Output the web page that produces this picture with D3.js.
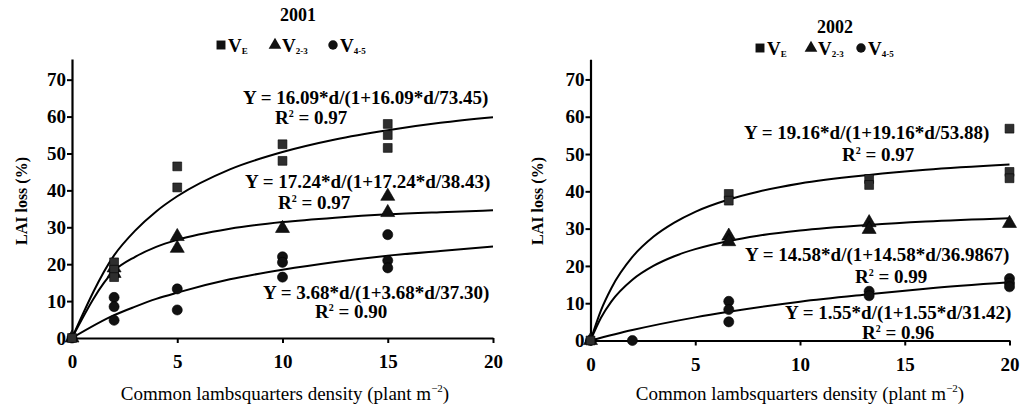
<!DOCTYPE html>
<html>
<head>
<meta charset="utf-8">
<script src="https://cdn.jsdelivr.net/npm/d3@7/dist/d3.min.js"></script>
<style>
  body { margin: 0; background: #fff; }
  svg { display: block; }
  text { font-family: "Liberation Serif", "Times New Roman", serif; fill: #000; }
</style>
</head>
<body>
<div id="chart"></div>
<script>
// tick labels
var xTicks = [0, 5, 10, 15, 20];
var yTicks = [0, 10, 20, 30, 40, 50, 60, 70];
var seriesNames = ['E', '2-3', '4-5'];

// 2001 observations [density, LAI loss %]
var ve2001 = [[0, 0], [2, 20.5], [2, 18.5], [2, 16.5], [5, 46.5], [5, 40.8], [10, 52.5], [10, 48], [15, 58], [15, 55], [15, 51.5]];
var v23_2001 = [[0, 0], [2, 19], [2, 17.5], [5, 27.5], [5, 24.3], [10, 29.7], [15, 38.4], [15, 34]];
var v45_2001 = [[0, 0], [2, 11], [2, 8.5], [2, 4.8], [5, 13.3], [5, 7.6], [10, 22], [10, 20.5], [10, 16.5], [15, 28], [15, 21], [15, 19]];

// 2001 fitted curves
var fitVe2001 = [[0, 0], [2, 22.4], [3, 29.1], [4, 34.3], [5, 38.4], [7.5, 45.7], [10, 50.4], [12.5, 53.8], [15, 56.3], [17.5, 58.3], [20, 59.8]];
var fitV23_2001 = [[0, 0], [2, 18.2], [3, 22.0], [4, 24.7], [5, 26.6], [7.5, 29.6], [10, 31.4], [12.5, 32.6], [15, 33.5], [17.5, 34.1], [20, 34.6]];
var fitV45_2001 = [[0, 0], [2, 6.2], [3, 8.5], [4, 10.6], [5, 12.3], [7.5, 15.9], [10, 18.5], [12.5, 20.6], [15, 22.3], [17.5, 23.6], [20, 24.8]];

// 2002 observations
var ve2002 = [[0, 0], [6.6, 39.3], [6.6, 37.5], [13.3, 43.3], [13.3, 41.7], [20, 56.8], [20, 45.2], [20, 43.5]];
var v23_2002 = [[0, 0], [6.6, 28], [6.6, 26.5], [13.3, 31.6], [13.3, 29.8], [20, 31.4]];
var v45_2002 = [[0, 0], [2, 0], [6.6, 10.5], [6.6, 8.3], [6.6, 5], [13.3, 13.2], [13.3, 12], [20, 16.6], [20, 15.4], [20, 14.4]];

// 2002 fitted curves
var fitVe2002 = [[0, 0], [0.5, 8.1], [1, 14.1], [2, 22.4], [3, 27.8], [4, 31.6], [5, 34.5], [6.6, 37.8], [8, 39.9], [10, 42.1], [13.3, 44.4], [16, 45.8], [20, 47.2]];
var fitV23_2002 = [[0, 0], [0.5, 6.1], [1, 10.5], [2, 16.3], [3, 20.0], [4, 22.6], [5, 24.5], [6.6, 26.7], [8, 28.1], [10, 29.5], [13.3, 31.0], [16, 31.9], [20, 32.8]];
var fitV45_2002 = [[0, 0], [2, 2.8], [5, 6.2], [6.6, 7.7], [10, 10.4], [13.3, 12.4], [16, 13.9], [20, 15.6]];

// equation labels
var eq2001 = ['Y = 16.09*d/(1+16.09*d/73.45)', 'Y = 17.24*d/(1+17.24*d/38.43)', 'Y = 3.68*d/(1+3.68*d/37.30)'];
var r2001 = ['0.97', '0.97', '0.90'];
var eq2002 = ['Y = 19.16*d/(1+19.16*d/53.88)', 'Y = 14.58*d/(1+14.58*d/36.9867)', 'Y = 1.55*d/(1+1.55*d/31.42)'];
var r2002 = ['0.97', '0.99', '0.96'];

var width = 1024, height = 406;
var font = 'Liberation Serif, Times New Roman, serif';

var panels = [
    {
        title: '2001', titleX: 298, titleY: 21,
        x0: 72, x1: 493, y0: 338, y1: 59, yMax: 75.6,
        points: [ve2001, v23_2001, v45_2001],
        fits: [fitVe2001, fitV23_2001, fitV45_2001],
        eqs: eq2001, r2: r2001,
        eqPos: [[243, 104, 275, 124], [245, 188, 278, 209], [263, 299, 315, 318]],
        legendY: 45, legendX: [221, 275, 333],
        yLabelX: 21, yLabelY: 201, xLabelX: 285
    },
    {
        title: '2002', titleX: 835, titleY: 33,
        x0: 590.5, x1: 1009.5, y0: 340.5, y1: 59.3, yMax: 75.4,
        points: [ve2002, v23_2002, v45_2002],
        fits: [fitVe2002, fitV23_2002, fitV45_2002],
        eqs: eq2002, r2: r2002,
        eqPos: [[744, 139, 842, 161], [745, 261, 855, 283], [785, 319, 862, 339]],
        legendY: 48, legendX: [760, 811, 861],
        yLabelX: 537, yLabelY: 201, xLabelX: 800
    }
];

var symbols = [d3.symbolSquare, d3.symbolTriangle, d3.symbolCircle];
var symbolSizes = [78, 85, 80];

var svg = d3.select('#chart').append('svg')
    .attr('width', width)
    .attr('height', height);

panels.forEach(function (p) {
    var x = d3.scaleLinear().domain([0, 20]).range([p.x0, p.x1]);
    var y = d3.scaleLinear().domain([0, p.yMax]).range([p.y0, p.y1]);

    var g = svg.append('g');

    // fitted curves
    var line = d3.line()
        .x(function (d) { return x(d[0]); })
        .y(function (d) { return y(d[1]); })
        .curve(d3.curveMonotoneX);

    g.selectAll('path.fit')
        .data(p.fits)
        .enter().append('path')
        .attr('class', 'fit')
        .attr('fill', 'none')
        .attr('stroke', '#000')
        .attr('stroke-width', 2)
        .attr('d', line);

    // axes
    var xAxis = g.append('g')
        .attr('transform', 'translate(0,' + p.y0 + ')')
        .call(d3.axisBottom(x).tickValues(xTicks).tickSize(5).tickSizeOuter(0).tickPadding(12));
    var yAxis = g.append('g')
        .attr('transform', 'translate(' + p.x0 + ',0)')
        .call(d3.axisLeft(y).tickValues(yTicks).tickSize(5).tickSizeOuter(0).tickPadding(1));

    [xAxis, yAxis].forEach(function (a) {
        a.select('.domain').attr('stroke-width', 2.2);
        a.selectAll('.tick line').attr('stroke-width', 2);
        a.selectAll('.tick text')
            .attr('font-family', font)
            .attr('font-weight', 'bold')
            .attr('font-size', 19);
    });

    // observed points, squares drawn last so they sit on top
    [2, 1, 0].forEach(function (i) {
        g.selectAll('path.pt' + i)
            .data(p.points[i])
            .enter().append('path')
            .attr('class', 'pt' + i)
            .attr('transform', function (d) { return 'translate(' + x(d[0]) + ',' + y(d[1]) + ')'; })
            .attr('d', d3.symbol().type(symbols[i]).size(symbolSizes[i]))
            .attr('fill', i === 0 ? '#2e2e2e' : '#111')
            .attr('stroke', '#000')
            .attr('stroke-width', 0.6);
    });

    // equations
    p.eqs.forEach(function (eq, i) {
        var pos = p.eqPos[i];
        g.append('text')
            .attr('x', pos[0]).attr('y', pos[1])
            .attr('font-size', 19).attr('font-weight', 'bold')
            .text(eq);
        var r = g.append('text')
            .attr('x', pos[2]).attr('y', pos[3])
            .attr('font-size', 19).attr('font-weight', 'bold');
        r.append('tspan').text('R');
        r.append('tspan').attr('font-size', 10).attr('dy', -7).text('2');
        r.append('tspan').attr('dy', 7).text(' = ' + p.r2[i]);
    });

    // title
    g.append('text')
        .attr('x', p.titleX).attr('y', p.titleY)
        .attr('text-anchor', 'middle')
        .attr('font-size', 18).attr('font-weight', 'bold')
        .text(p.title);

    // legend
    seriesNames.forEach(function (name, i) {
        var lx = p.legendX[i];
        g.append('path')
            .attr('transform', 'translate(' + lx + ',' + p.legendY + ')')
            .attr('d', d3.symbol().type(symbols[i]).size(i === 0 ? 80 : 70))
            .attr('fill', '#111');
        var t = g.append('text')
            .attr('x', lx + 7).attr('y', p.legendY + 7)
            .attr('font-size', 19).attr('font-weight', 'bold');
        t.append('tspan').text('V');
        t.append('tspan').attr('font-size', 9).attr('dy', 2).text(name);
    });

    // axis titles
    g.append('text')
        .attr('transform', 'translate(' + p.yLabelX + ',' + p.yLabelY + ') rotate(-90)')
        .attr('text-anchor', 'middle')
        .attr('dy', '0.35em')
        .attr('font-size', 16).attr('font-weight', 'bold')
        .text('LAI loss (%)');

    var xl = g.append('text')
        .attr('x', p.xLabelX).attr('y', 400)
        .attr('text-anchor', 'middle')
        .attr('font-size', 19);
    xl.append('tspan').text('Common lambsquarters density (plant m');
    xl.append('tspan').attr('font-size', 11).attr('dy', -8).text('\u22122');
    xl.append('tspan').attr('dy', 8).text(')');
});
</script>
</body>
</html>
